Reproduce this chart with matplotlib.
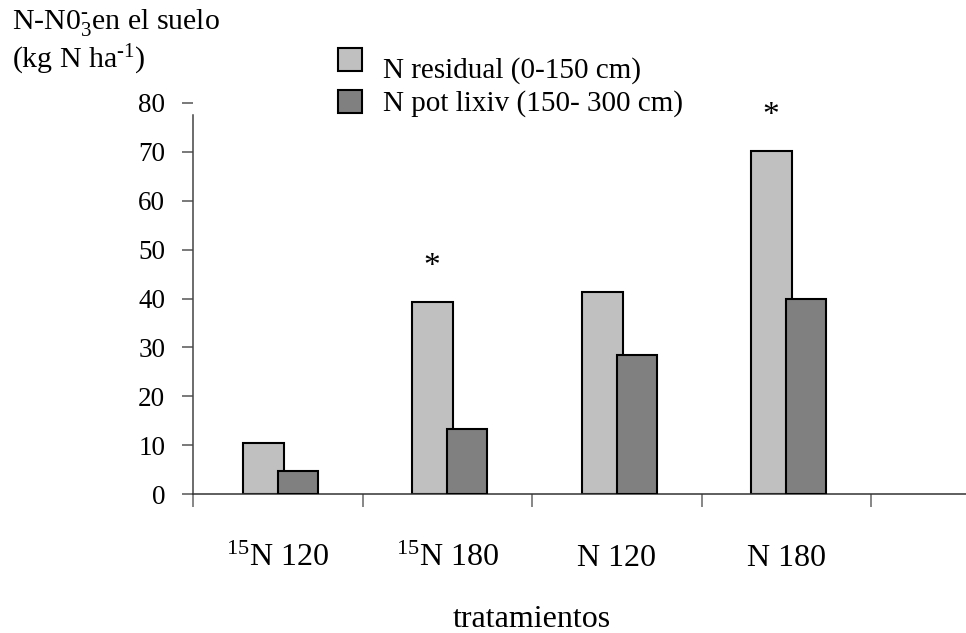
import matplotlib
matplotlib.use("Agg")
import matplotlib.pyplot as plt
from matplotlib.patches import Rectangle
import numpy as np

# Nitrate left in the soil profile per treatment
treatments = [r"$^{15}$N 120", r"$^{15}$N 180", "N 120", "N 180"]
residual = [10.4, 39.3, 41.3, 70.1]      # 0-150 cm
leachable = [4.8, 13.3, 28.4, 39.9]      # 150-300 cm
significant = [False, True, False, True]
legend_labels = ["N residual (0-150 cm)", "N pot lixiv (150- 300 cm)"]
yticks = [0, 10, 20, 30, 40, 50, 60, 70, 80]

plt.rcParams["font.family"] = "Liberation Serif"
plt.rcParams["mathtext.fontset"] = "custom"
plt.rcParams["mathtext.rm"] = "Liberation Serif"
plt.rcParams["mathtext.it"] = "Liberation Serif:italic"

light = "#c0c0c0"
dark = "#808080"

fig = plt.figure(figsize=(9.66, 6.33), dpi=100)
W, H = 966, 633
x0, y0, x_end, y_top = 193, 494, 966, 103
ax = fig.add_axes([x0 / W, 1 - y0 / H, (x_end - x0) / W, (y0 - y_top) / H])

unit = 169.5  # pixels per category
xmax = (x_end - x0) / unit
centers = np.arange(len(treatments)) + 0.5

ax.bar(centers - 0.0855, residual, width=0.242, color=light,
       edgecolor="black", linewidth=1.5, zorder=2)
ax.bar(centers + 0.118, leachable, width=0.236, color=dark,
       edgecolor="black", linewidth=1.5, zorder=3)

for c, v, s in zip(centers, residual, significant):
    if s:
        ax.text(c - 0.09, v + 7.2, "*", ha="center", va="center",
                fontsize=24, zorder=4)

ax.set_xlim(0, xmax)
ax.set_ylim(0, 80)

for side in ["top", "right"]:
    ax.spines[side].set_visible(False)
ax.spines["left"].set_bounds(0, 77.5)
ax.spines["left"].set_color("#444444")
ax.spines["bottom"].set_color("#333333")
ax.spines["left"].set_linewidth(1.1)
ax.spines["bottom"].set_linewidth(1.1)

ax.set_yticks(yticks)
ax.tick_params(axis="y", direction="out", length=8, width=1.1,
               color="#555555", labelsize=19.5, pad=12)

ax.set_xticks(np.arange(0, 5))
ax.set_xticklabels([])
ax.tick_params(axis="x", which="major", direction="out", length=9,
               width=1.1, color="#666666")
ax.set_xticks(centers, treatments, minor=True)
ax.tick_params(axis="x", which="minor", length=0, labelsize=23, pad=36)

ax.set_xlabel("tratamientos", fontsize=23)
ax.xaxis.set_label_coords(2.0 / xmax, -0.285)

# y axis title in two lines at the top left
fig.text(12 / W, 1 - 23 / H, r"N-N0$_3^{\text{-}}$en el suelo", fontsize=21.5,
         ha="left", va="center")
fig.text(12 / W, 1 - 60 / H, r"(kg N ha$^{\text{-}1}$)", fontsize=21.5,
         ha="left", va="center")

# legend drawn by hand
for (sq_top, txt_y), col, lab in zip([(48, 71), (90, 104)], [light, dark], legend_labels):
    fig.patches.append(Rectangle((338 / W, 1 - (sq_top + 23) / H), 24 / W, 23 / H,
                                 transform=fig.transFigure, facecolor=col,
                                 edgecolor="black", linewidth=1.5))
    fig.text(383 / W, 1 - txt_y / H, lab, fontsize=21, ha="left", va="center")

fig.savefig("out.png", dpi=100)
